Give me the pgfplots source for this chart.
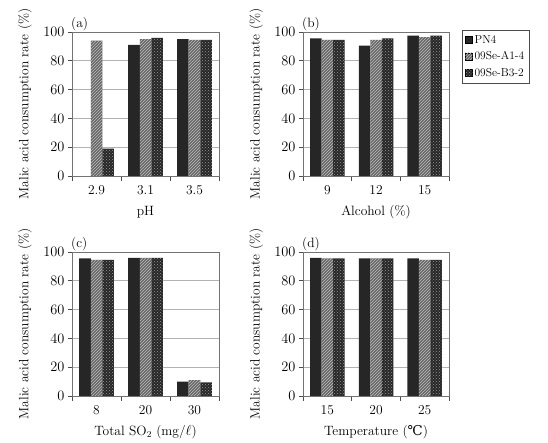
\documentclass[border=0pt]{standalone}
\usepackage{fontspec}
\usepackage{pgfplots}
\pgfplotsset{compat=1.18}
\usetikzlibrary{patterns}
\newfontfamily\dejavu{DejaVu Serif}
\pgfplotsset{
  pn/.style={fill=black!85, draw=none},
  aone/.style={fill=black!60, draw=none, postaction={pattern=north east lines, pattern color=white!75!black}},
  bthree/.style={fill=black!85, draw=none, postaction={pattern=crosshatch dots, pattern color=white!60!black}},
  panel/.style={
    scale only axis, width=146pt, height=144pt, anchor=south west,
    clip=false,
    ybar=0pt, bar width=11.5pt,
    xmin=-0.5, xmax=2.5, ymin=0, ymax=100,
    ytick={0,20,40,60,80,100},
    xtick={0,1,2},
    minor xtick={-0.5,0.5,1.5,2.5},
    major x tick style={draw=none},
    minor tick length=5pt,
    major tick length=4pt,
    tick align=outside,
    xtick pos=bottom, ytick pos=left,
    tick style={black!70, line width=0.6pt},
    axis line style={black!55, line width=0.6pt},
    ymajorgrids, grid style={black!30, line width=0.6pt},
    tick label style={font=\fontsize{13.5}{15}\selectfont},
    label style={font=\fontsize{13.5}{15}\selectfont},
    ylabel={Malic acid consumption rate (\%)},
    y label style={at={(axis description cs:-0.32,0.5)}, anchor=center},
    x label style={at={(axis description cs:0.5,-0.25)}, anchor=center},
    xticklabel style={yshift=-2pt},
    area legend,
  }
}
\newcommand\plabel[1]{\node[anchor=base west, font=\fontsize{13.5}{15}\selectfont] at (rel axis cs:-0.03,1.03) {#1};}
\begin{document}
\begin{tikzpicture}[x=1pt,y=1pt]
\useasboundingbox (0,0) rectangle (548,443);
% (a)
\begin{axis}[panel, at={(72pt,267pt)}, width=147pt,
  xticklabels={2.9,3.1,3.5}, xlabel={pH}]
\addplot[pn] coordinates {(1,91) (2,95)};
\addplot[aone] coordinates {(0,94) (1,95) (2,94.5)};
\addplot[bthree] coordinates {(0,19) (1,96) (2,94.5)};
\plabel{(a)}
\end{axis}
% (b)
\begin{axis}[panel, at={(303pt,267pt)},
  xticklabels={9,12,15}, xlabel={Alcohol (\%)},
  legend style={at={(1.089,1.014)}, anchor=north west, draw=black!70,
    font=\fontsize{11.5}{13}\selectfont, row sep=3pt, inner xsep=3pt, inner ysep=3pt,
    cells={anchor=west}},
  legend image code/.code={\draw[#1] (0pt,-3.5pt) rectangle (7pt,3.5pt);}]
\addplot[pn] coordinates {(0,95.5) (1,90.5) (2,97.5)};
\addplot[aone] coordinates {(0,94.5) (1,94.5) (2,96.5)};
\addplot[bthree] coordinates {(0,94.5) (1,95.5) (2,97.5)};
\legend{PN4,09Se-A1-4,09Se-B3-2}
\plabel{(b)}
\end{axis}
% (c)
\begin{axis}[panel, at={(72pt,47pt)}, width=147pt,
  xticklabels={8,20,30}, xlabel={Total SO$_2$ (mg/$\ell$)}]
\addplot[pn] coordinates {(0,95.5) (1,96) (2,10)};
\addplot[aone] coordinates {(0,94.5) (1,96) (2,11)};
\addplot[bthree] coordinates {(0,94.5) (1,96) (2,9.5)};
\plabel{(c)}
\end{axis}
% (d)
\begin{axis}[panel, at={(303pt,47pt)},
  xticklabels={15,20,25}, xlabel={Temperature ({\dejavu ℃})}]
\addplot[pn] coordinates {(0,96) (1,95.5) (2,95.5)};
\addplot[aone] coordinates {(0,95.5) (1,95.5) (2,94.5)};
\addplot[bthree] coordinates {(0,95.5) (1,95.5) (2,94.5)};
\plabel{(d)}
\end{axis}
\end{tikzpicture}
\end{document}
